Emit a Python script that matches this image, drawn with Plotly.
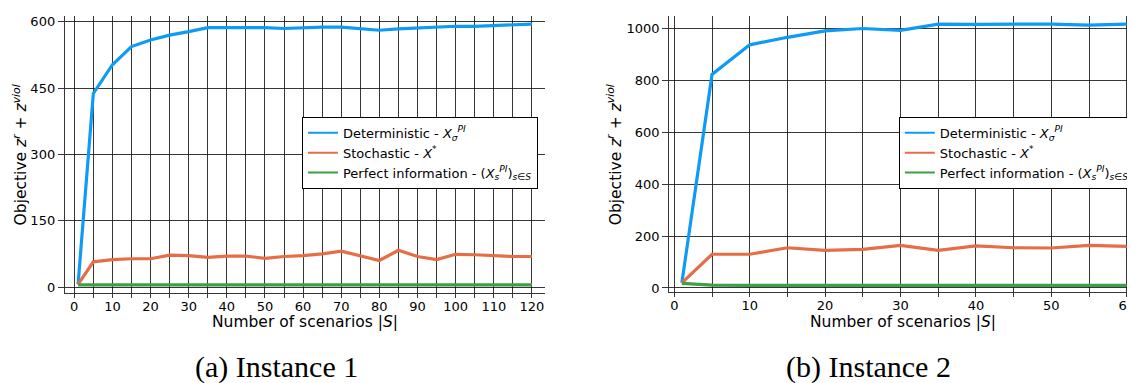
import plotly.graph_objects as go

# ---------------- data ----------------
x_left = [1, 5, 10, 15, 20, 25, 30, 35, 40, 45, 50, 55, 60, 65, 70, 75, 80, 85, 90, 95, 100, 105, 110, 115, 120]
det_left = [6, 438, 503, 544, 559, 570, 578, 587, 587, 587, 587, 585, 587, 588, 588, 585, 581, 584, 586, 589, 590, 590, 592, 594, 595]
sto_left = [6, 57, 62, 64, 64, 72, 71, 67, 70, 70, 65, 69, 71, 75, 81, 71, 60, 83, 69, 62, 74, 73, 71, 69, 69]
pi_left = [5, 5, 5, 5, 5, 5, 5, 5, 5, 5, 5, 5, 5, 5, 5, 5, 5, 5, 5, 5, 5, 5, 5, 5, 5]

x_right = [1, 5, 10, 15, 20, 25, 30, 35, 40, 45, 50, 55, 60]
det_right = [20, 823, 937, 966, 991, 1000, 993, 1017, 1016, 1016, 1017, 1013, 1017]
sto_right = [20, 130, 130, 155, 145, 149, 164, 145, 162, 155, 154, 164, 160]
pi_right = [18, 11, 10, 10, 10, 10, 10, 10, 10, 10, 10, 10, 10]

series_names = [
    "Deterministic - <i>X</i><sub><i>σ</i></sub><sup><i>PI</i></sup>",
    "Stochastic - <i>X</i><sup>*</sup>",
    "Perfect information - (<i>X</i><sub><i>s</i></sub><sup><i>PI</i></sup>)<sub><i>s</i>∈<i>S</i></sub>",
]
colors = ["#0F9BF5", "#E66E46", "#3CA046"]

left_ticks = [0, 150, 300, 450, 600]
right_ticks = [0, 200, 400, 600, 800, 1000]

# the page body has an 8px default margin: the figure starts at (8, 8) on screen
OFF = 8
W, H = 1135 - OFF, 383 - OFF
FONT = "DejaVu Sans"
GRID = "rgba(20,20,20,0.85)"

fig = go.Figure()

for ys, c, n in zip([det_left, sto_left, pi_left], colors, series_names):
    fig.add_trace(go.Scatter(x=x_left, y=ys, mode="lines", line=dict(color=c, width=3.2),
                             name=n, showlegend=False, xaxis="x", yaxis="y"))
for ys, c, n in zip([det_right, sto_right, pi_right], colors, series_names):
    fig.add_trace(go.Scatter(x=x_right, y=ys, mode="lines", line=dict(color=c, width=3.2),
                             name=n, showlegend=False, xaxis="x2", yaxis="y2"))

# legend-only entries (thinner sample lines)
for c, n in zip(colors, series_names):
    fig.add_trace(go.Scatter(x=[None], y=[None], mode="lines", line=dict(color=c, width=2),
                             name=n, legend="legend", xaxis="x", yaxis="y"))
for c, n in zip(colors, series_names):
    fig.add_trace(go.Scatter(x=[None], y=[None], mode="lines", line=dict(color=c, width=2),
                             name=n, legend="legend2", xaxis="x2", yaxis="y2"))


def px_x(p):
    return min(1.0, (p - OFF) / W)


def px_y(p):
    return 1 - (p - OFF) / H


common_x = dict(
    showline=True, linecolor=GRID, linewidth=1,
    showgrid=True, gridcolor=GRID, gridwidth=1,
    zeroline=False, ticks="outside", ticklen=4, tickcolor=GRID,
    ticklabelstandoff=-3,
    dtick=10, tick0=0,
    minor=dict(dtick=5, tick0=0, showgrid=True, gridcolor=GRID, gridwidth=1,
               ticks="outside", ticklen=4, tickcolor=GRID),
    tickfont=dict(family=FONT, size=13, color="black"),
)
common_y = dict(
    showline=True, linecolor=GRID, linewidth=1,
    showgrid=True, gridcolor=GRID, gridwidth=1,
    zeroline=False, ticks="outside", ticklen=6, tickcolor=GRID,
    tickfont=dict(family=FONT, size=13, color="black"),
)

fig.update_layout(
    width=W, height=H,
    margin=dict(l=0, r=0, t=0, b=0),
    paper_bgcolor="white", plot_bgcolor="white",
    font=dict(family=FONT, size=13, color="black"),
    xaxis=dict(domain=[px_x(65), px_x(547)], range=[-2.48, 123.45], anchor="y", **common_x),
    yaxis=dict(domain=[px_y(295), px_y(15)], range=[-13.43, 613.43], anchor="x",
               tickvals=left_ticks, **common_y),
    xaxis2=dict(domain=[px_x(671.5), 1.0], range=[-0.687, 60.57], anchor="y2", **common_x),
    yaxis2=dict(domain=[px_y(294.5), px_y(15)], range=[-17.2, 1048.4], anchor="x2",
                tickvals=right_ticks, **common_y),
    legend=dict(x=px_x(303), y=px_y(117), xanchor="left", yanchor="top",
                bgcolor="white", bordercolor="black", borderwidth=1,
                font=dict(family=FONT, size=13, color="black")),
    legend2=dict(x=px_x(902), y=px_y(117), xanchor="left", yanchor="top",
                 bgcolor="white", bordercolor="black", borderwidth=1,
                 font=dict(family=FONT, size=13, color="black")),
)

ytitle = "Objective <i>z</i><sup><i>r</i></sup> + <i>z</i><sup><i>viol</i></sup>"
xtitle = "Number of scenarios |<i>S</i>|"
annos = [
    dict(x=px_x(20), y=px_y(155), text=ytitle, textangle=-90, font=dict(family=FONT, size=15.5)),
    dict(x=px_x(617), y=px_y(155), text=ytitle, textangle=-90, font=dict(family=FONT, size=15.5)),
    dict(x=px_x(306), y=px_y(324), text=xtitle, font=dict(family=FONT, size=15.5)),
    dict(x=px_x(906.5), y=px_y(324), text=xtitle, font=dict(family=FONT, size=15.5)),
    dict(x=px_x(277), y=px_y(370), text="(a) Instance 1", font=dict(family="Liberation Serif", size=30)),
    dict(x=px_x(872), y=px_y(370), text="(b) Instance 2", font=dict(family="Liberation Serif", size=30)),
]
for a in annos:
    fig.add_annotation(xref="paper", yref="paper", showarrow=False,
                       xanchor="center", yanchor="middle", **a)

fig.write_html("out.html")
